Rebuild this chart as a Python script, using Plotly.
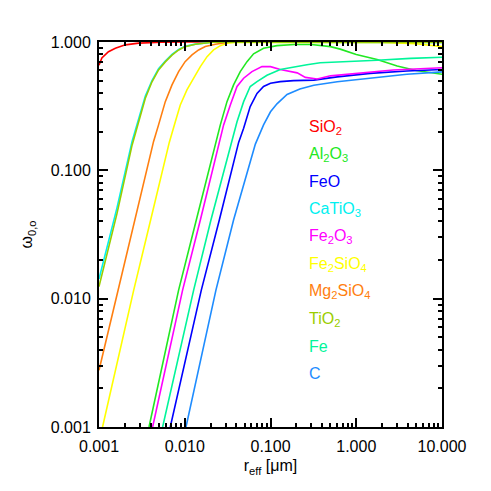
import plotly.graph_objs as go

# effective radius [micron] and single-scattering albedo
r_sio2 = [0.001, 0.00108, 0.00129, 0.00155, 0.00203, 0.0029, 0.0054, 0.01, 0.1, 1, 10]
w_sio2 = [0.66, 0.75, 0.84, 0.895, 0.95, 0.98, 0.995, 0.999, 1.0, 1.0, 1.0]

r_al2o3 = [0.00383, 0.00848, 0.01364, 0.0227, 0.026, 0.0311, 0.0371, 0.0444, 0.0532, 0.0635,
           0.083, 0.119, 0.19, 0.3, 0.5, 0.65, 1.0, 1.75, 3.0, 5.0, 10]
w_al2o3 = [0.001, 0.01165, 0.041, 0.165, 0.226, 0.343, 0.463, 0.588, 0.703, 0.809,
           0.895, 0.937, 0.955, 0.955, 0.92, 0.88, 0.80, 0.73, 0.65, 0.60, 0.56]

r_feo = [0.00678, 0.0156, 0.0253, 0.0425, 0.0486, 0.058, 0.0696, 0.083, 0.1, 0.13, 0.186,
         0.32, 0.6, 1.45, 3.9, 10]
w_feo = [0.001, 0.01165, 0.041, 0.165, 0.213, 0.314, 0.398, 0.45, 0.477, 0.491, 0.5,
         0.505, 0.535, 0.57, 0.595, 0.61]

r_catio3 = [0.001, 0.00162, 0.00243, 0.0029, 0.00347, 0.00415, 0.00495, 0.00593, 0.0071,
            0.0085, 0.0101, 0.0133, 0.021, 0.05, 0.3, 3, 10]
w_catio3 = [0.0142, 0.051, 0.168, 0.25, 0.38, 0.5, 0.62, 0.71, 0.80,
            0.875, 0.925, 0.963, 0.995, 0.998, 0.997, 0.995, 0.99]

r_fe2o3 = [0.00422, 0.00944, 0.0152, 0.0253, 0.0284, 0.034, 0.0407, 0.0486, 0.0608, 0.0795,
           0.1, 0.13, 0.17, 0.205, 0.255, 0.3, 0.35, 0.5, 1.1, 2.7, 10]
w_fe2o3 = [0.001, 0.01165, 0.041, 0.165, 0.226, 0.323, 0.45, 0.522, 0.588, 0.643,
           0.643, 0.61, 0.588, 0.575, 0.53, 0.52, 0.515, 0.545, 0.575, 0.605, 0.63]

r_fe2sio4 = [0.0011, 0.00254, 0.0040, 0.0066, 0.00776, 0.00887, 0.0106, 0.0127, 0.0152, 0.0182,
             0.0217, 0.026, 0.0311, 0.041, 0.1, 1, 2, 5, 7, 10]
w_fe2sio4 = [0.001, 0.01165, 0.041, 0.165, 0.239, 0.323, 0.423, 0.522, 0.643, 0.769,
             0.867, 0.937, 0.979, 0.998, 0.998, 0.995, 0.99, 0.97, 0.95, 0.92]

r_mg2sio4 = [0.001, 0.00167, 0.00259, 0.00433, 0.00495, 0.00593, 0.0071, 0.00848, 0.0101,
             0.01215, 0.0145, 0.01737, 0.0227, 0.0324, 0.1, 1, 10]
w_mg2sio4 = [0.00277, 0.01165, 0.041, 0.168, 0.226, 0.343, 0.463, 0.588, 0.703,
             0.793, 0.867, 0.921, 0.961, 0.995, 0.998, 0.997, 0.995]

r_tio2 = [0.001, 0.00162, 0.00243, 0.0029, 0.00347, 0.00415, 0.00495, 0.00593, 0.0071,
          0.0085, 0.0101, 0.0133, 0.021, 0.05, 0.3, 3, 10]
w_tio2 = [0.0124, 0.046, 0.157, 0.239, 0.365, 0.49, 0.606, 0.70, 0.79,
          0.867, 0.92, 0.96, 0.995, 0.998, 0.997, 0.995, 0.99]

r_fe = [0.00552, 0.0127, 0.0202, 0.034, 0.0407, 0.0486, 0.058, 0.0696, 0.091, 0.13, 0.186,
        0.266, 0.38, 0.71, 1.75, 4.3, 10]
w_fe = [0.001, 0.01165, 0.041, 0.157, 0.239, 0.343, 0.45, 0.491, 0.55, 0.61, 0.64,
        0.665, 0.69, 0.70, 0.72, 0.745, 0.76]

r_c = [0.01034, 0.0231, 0.0371, 0.0666, 0.083, 0.1, 0.119, 0.156, 0.22, 0.32, 0.6, 1.45, 3.9, 10]
w_c = [0.001, 0.01165, 0.041, 0.16, 0.226, 0.286, 0.33, 0.39, 0.43, 0.46, 0.49, 0.525, 0.56, 0.585]

# legend order, labels, colours
names = ['SiO<sub>2</sub>', 'Al<sub>2</sub>O<sub>3</sub>', 'FeO', 'CaTiO<sub>3</sub>',
         'Fe<sub>2</sub>O<sub>3</sub>', 'Fe<sub>2</sub>SiO<sub>4</sub>', 'Mg<sub>2</sub>SiO<sub>4</sub>',
         'TiO<sub>2</sub>', 'Fe', 'C']
colors = ['#ff0000', '#22e822', '#0000ff', '#00f0f0', '#ff00ff', '#ffff00', '#ff7f10',
          '#9acd00', '#00f59a', '#1e8cff']
series = [(r_sio2, w_sio2), (r_al2o3, w_al2o3), (r_feo, w_feo), (r_catio3, w_catio3),
          (r_fe2o3, w_fe2o3), (r_fe2sio4, w_fe2sio4), (r_mg2sio4, w_mg2sio4),
          (r_tio2, w_tio2), (r_fe, w_fe), (r_c, w_c)]

xticks = [0.001, 0.01, 0.1, 1, 10]
xticklabels = ['0.001', '0.010', '0.100', '1.000', '10.000']
yticks = [0.001, 0.01, 0.1, 1]
yticklabels = ['0.001', '0.010', '0.100', '1.000']

data = []
for (r, w), name, col in zip(series, names, colors):
    data.append(go.Scatter(x=r, y=w, mode='lines', name=name,
                           line=dict(color=col, width=1.6)))

minor_x = [m * 10 ** e for e in range(-3, 1) for m in range(2, 10)]
minor_y = [m * 10 ** e for e in range(-3, 0) for m in range(2, 10)]

axis_style = dict(type='log', showgrid=False, zeroline=False, showline=True,
                  linecolor='black', linewidth=2, mirror='ticks', ticks='inside',
                  ticklen=9, tickwidth=1.5, tickcolor='black', automargin=False,
                  tickfont=dict(size=16))

annotations = []
for i, (name, col) in enumerate(zip(names, colors)):
    annotations.append(dict(xref='paper', yref='paper', x=0.615, y=(426.7 - (127 + 27.4 * i)) / 384.7,
                            text=name, showarrow=False, xanchor='left', yanchor='middle',
                            xshift=-3, font=dict(color=col, size=16)))

# the page body adds an 8px offset, so the figure is 8px smaller
layout = go.Layout(
    width=483, height=483,
    margin=dict(l=91, r=49, t=34, b=64),
    paper_bgcolor='white', plot_bgcolor='white',
    font=dict(family='Liberation Sans, Arial', size=14, color='black'),
    showlegend=False,
    xaxis=dict(axis_style, range=[-3, 1], tickvals=xticks, ticktext=xticklabels,
               ticklabelstandoff=4,
               minor=dict(tickvals=minor_x, ticks='inside', ticklen=4, tickcolor='black'),
               title=dict(text='r<sub>eff</sub> [μm]', standoff=6, font=dict(size=16))),
    yaxis=dict(axis_style, range=[-3, 0], tickvals=yticks, ticktext=yticklabels,
               ticklabelstandoff=3,
               minor=dict(tickvals=minor_y, ticks='inside', ticklen=4, tickcolor='black'),
               title=dict(text='ω<sub>0,o</sub>', standoff=14, font=dict(size=16))),
    annotations=annotations,
)

fig = go.Figure(data=data, layout=layout)
fig.write_html('out.html')
